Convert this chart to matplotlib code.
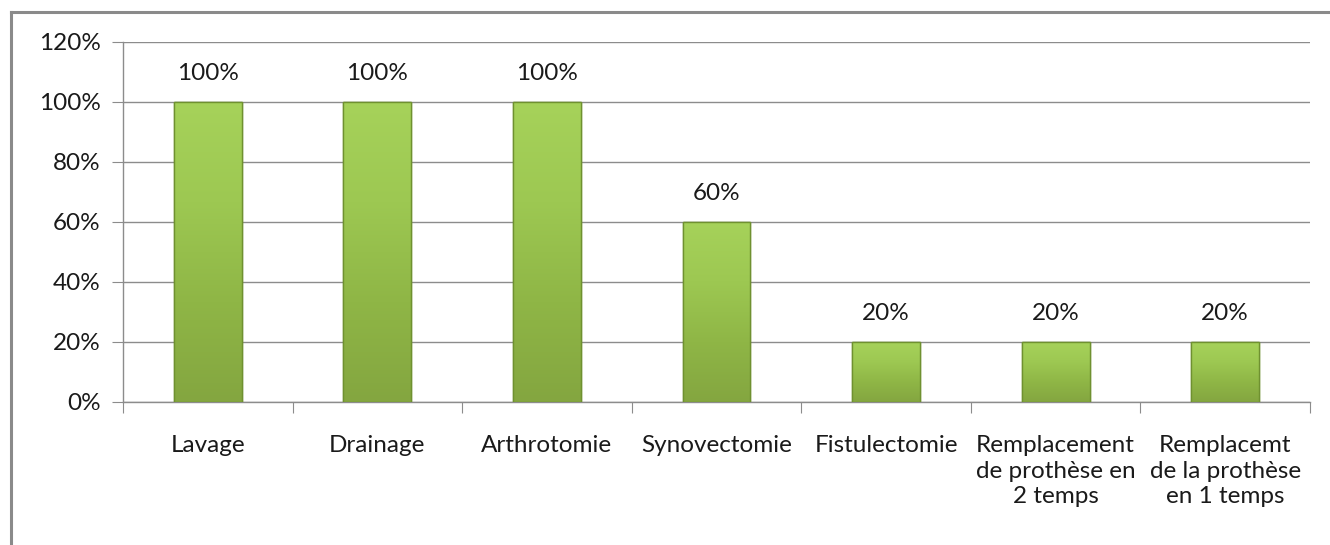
import matplotlib
matplotlib.use("Agg")
import matplotlib.pyplot as plt
import numpy as np
from matplotlib.colors import LinearSegmentedColormap
from matplotlib.lines import Line2D

categories = ["Lavage", "Drainage", "Arthrotomie", "Synovectomie", "Fistulectomie",
              "Remplacement\nde prothèse en\n2 temps", "Remplacemt\nde la prothèse\nen 1 temps"]
values = [100, 100, 100, 60, 20, 20, 20]
yticks = [0, 20, 40, 60, 80, 100, 120]
ytick_labels = ["0%", "20%", "40%", "60%", "80%", "100%", "120%"]

plt.rcParams['font.family'] = ['Lato', 'DejaVu Sans']
FS = 17.5
TXT = "#1a1a1a"

W, H = 1330, 545
fig = plt.figure(figsize=(W/100, H/100), dpi=100)
ax = fig.add_axes([123/W, 1-402/H, (1310-123)/W, (402-42)/H])

x = np.arange(len(categories))
bars = ax.bar(x, values, width=0.4, color="#93c04a", edgecolor="#6f9130", linewidth=1.0, zorder=3)

cmap = LinearSegmentedColormap.from_list("g", ["#84a640", "#8fb646", "#9dc852", "#a6d25a"])
grad = np.linspace(0, 1, 256).reshape(-1, 1)
for b in bars:
    x0, y0, w, h = b.get_x(), b.get_y(), b.get_width(), b.get_height()
    im = ax.imshow(grad, cmap=cmap, origin="lower", extent=[x0, x0+w, y0, y0+h],
                   aspect="auto", zorder=3.5, interpolation="bilinear")
    im.set_clip_path(b)
    ax.add_patch(plt.Rectangle((x0, y0), w, h, fill=False, edgecolor="#6f9130", linewidth=1.0, zorder=4))

for xi, v in zip(x, values):
    ax.annotate(f"{v}%", (xi, v), xytext=(0, 20.5), textcoords="offset points",
                ha="center", va="center", fontsize=FS, color=TXT)

ax.set_xlim(-0.5, len(categories)-0.5)
ax.set_ylim(0, 120)
ax.set_yticks(yticks)
ax.set_yticklabels(ytick_labels, fontsize=FS, color=TXT)
ax.yaxis.grid(True, color="#8c8c8c", linewidth=1.0, zorder=0)
ax.set_axisbelow(True)

ax.set_xticks(np.arange(len(categories)+1) - 0.5, minor=False)
ax.set_xticklabels([])
ax.tick_params(axis="x", which="major", length=8, color="#8c8c8c", direction="out")
ax.set_xticks(x, minor=True)
ax.set_xticklabels(categories, minor=True, fontsize=FS, color=TXT, linespacing=1.25)
ax.tick_params(axis="x", which="minor", length=0, pad=24)
ax.tick_params(axis="y", length=8, color="#8c8c8c", pad=8)

for s in ["top", "right"]:
    ax.spines[s].set_visible(False)
for s in ["left", "bottom"]:
    ax.spines[s].set_color("#8c8c8c")
    ax.spines[s].set_linewidth(1.0)

fig.add_artist(Line2D([10.5/W, 10.5/W], [0, 1-12/H], color="#8a8a8a", linewidth=2.2, transform=fig.transFigure))
fig.add_artist(Line2D([10.5/W, 1], [1-12/H, 1-12/H], color="#8a8a8a", linewidth=2.2, transform=fig.transFigure))

fig.savefig("out.png", dpi=100, facecolor="white")
